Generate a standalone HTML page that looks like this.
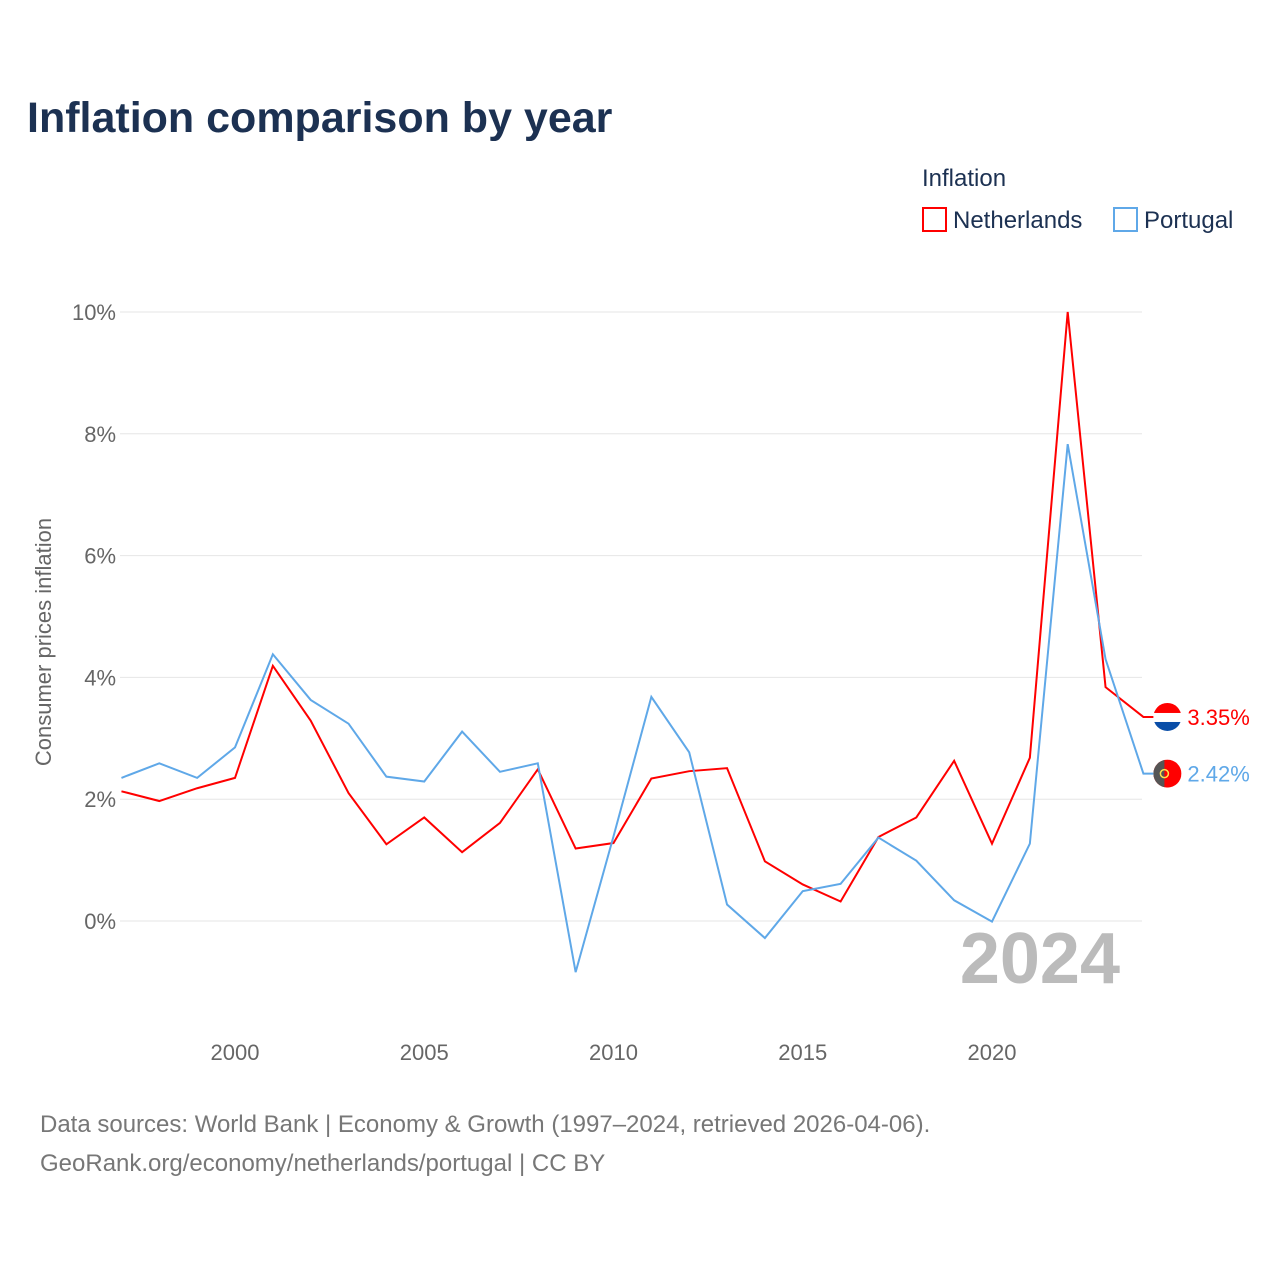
<!DOCTYPE html>
<html><head><meta charset="utf-8"><style>
body{margin:0;background:#fff;font-family:"Liberation Sans",sans-serif;}
svg text{font-family:"Liberation Sans",sans-serif;}
</style></head><body>
<svg id="chart" width="1280" height="1280" xmlns="http://www.w3.org/2000/svg">
<defs>
<clipPath id="c1"><circle cx="0" cy="0" r="14"/></clipPath>
</defs>
<text x="27" y="132" font-size="43" font-weight="bold" fill="#1c3152">Inflation comparison by year</text>
<text x="922" y="186" font-size="24" fill="#1c3152">Inflation</text>
<g><rect x="923" y="208" width="23" height="23" fill="none" stroke="#ff0000" stroke-width="2"/><text x="953" y="228" font-size="24" fill="#1c3152">Netherlands</text></g>
<g><rect x="1114" y="208" width="23" height="23" fill="none" stroke="#5fa8e8" stroke-width="2"/><text x="1144" y="228" font-size="24" fill="#1c3152">Portugal</text></g>
<g id="grid"></g><g id="yt"></g><g id="xt"></g>
<text transform="translate(51,642) rotate(-90)" text-anchor="middle" font-size="22" fill="#666">Consumer prices inflation</text>
<text x="1120" y="983" text-anchor="end" font-size="72" font-weight="bold" fill="#bbb">2024</text>
<g id="lines"></g>
<text x="40" y="1132" font-size="24" fill="#777">Data sources: World Bank | Economy &amp; Growth (1997–2024, retrieved 2026-04-06).</text>
<text x="40" y="1171" font-size="24" fill="#777">GeoRank.org/economy/netherlands/portugal | CC BY</text>
</svg>
<script>
const years=[1997,1998,1999,2000,2001,2002,2003,2004,2005,2006,2007,2008,2009,2010,2011,2012,2013,2014,2015,2016,2017,2018,2019,2020,2021,2022,2023,2024];
const netherlands=[2.13,1.97,2.18,2.35,4.19,3.29,2.10,1.26,1.70,1.13,1.61,2.49,1.19,1.28,2.34,2.46,2.51,0.98,0.60,0.32,1.38,1.70,2.63,1.27,2.68,10.0,3.84,3.35];
const portugal=[2.35,2.59,2.35,2.85,4.38,3.63,3.24,2.37,2.29,3.11,2.45,2.59,-0.84,1.39,3.68,2.77,0.27,-0.28,0.49,0.61,1.37,0.99,0.34,-0.01,1.27,7.83,4.30,2.42];
const yTicks=[0,2,4,6,8,10];
const xTicks=[2000,2005,2010,2015,2020];
const NS="http://www.w3.org/2000/svg";
const X=y=>235+(y-2000)*37.85;
const Y=v=>921-v*60.9;
function el(t,a,p){const e=document.createElementNS(NS,t);for(const k in a)e.setAttribute(k,a[k]);(typeof p==='string'?document.getElementById(p):p).appendChild(e);return e;}
yTicks.forEach(v=>{
 const l=el('line',{x1:120,x2:1142,y1:Y(v),y2:Y(v),stroke:'#e6e6e6','stroke-width':1},'grid');
 
 
 const t=el('text',{x:116,y:Y(v)+8,'text-anchor':'end','font-size':22,fill:'#666'},'yt');
 t.textContent=v+'%';
 
 
});
xTicks.forEach(v=>{
 const t=el('text',{x:X(v),y:1060,'text-anchor':'middle','font-size':22,fill:'#666'},'xt');
 t.textContent=v;
 
 
});
function series(vals,color,name,flag){
 const last=vals[vals.length-1], ly=Y(last), lx=X(years[years.length-1]);
 const pts=vals.map((v,i)=>X(years[i])+','+Y(v)).join(' ')+' '+(lx+10)+','+ly;
 const p=el('polyline',{points:pts,fill:'none',stroke:color,'stroke-width':2},'lines');
 
 
 const g=el('g',{transform:'translate('+(lx+24)+','+ly+')','clip-path':'url(#c1)'},'lines');
 
 
 if(flag==='nl'){
  el('rect',{x:-14,y:-14,width:28,height:10,fill:'#ff0000'},g);
  el('rect',{x:-14,y:-4,width:28,height:9,fill:'#ffffff'},g);
  el('rect',{x:-14,y:5,width:28,height:9,fill:'#0a4ea8'},g);
 }else{
  el('rect',{x:-14,y:-14,width:28,height:28,fill:'#ff0000'},g);
  el('rect',{x:-14,y:-14,width:11,height:28,fill:'#555'},g);
  el('circle',{cx:-3,cy:0,r:4,fill:'none',stroke:'#ffe24a','stroke-width':1.5},g);
 }
 const t=el('text',{x:lx+44,y:ly+8,'font-size':22,fill:color},'lines');
 t.textContent=last.toFixed(2)+'%';
 
 
}
series(netherlands,'#ff0000','netherlands','nl');
series(portugal,'#5fa8e8','portugal','pt');
</script>
</body></html>
